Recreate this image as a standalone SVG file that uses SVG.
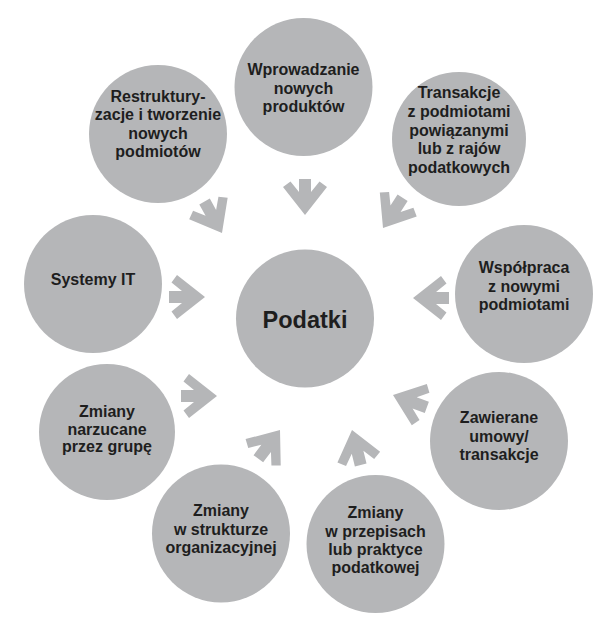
<svg xmlns="http://www.w3.org/2000/svg" xmlns:xlink="http://www.w3.org/1999/xlink" width="613" height="640" viewBox="0 0 613 640">
<style>
.node{fill:#b5b6b8}
.lbl{font-family:"Liberation Sans",Arial,sans-serif;font-weight:bold;font-size:16px;fill:#1e1e1e;text-anchor:middle}
.main{font-size:23.5px}
.arr{fill:#b5b6b8}
</style>
<defs>
<path id="arrow" d="M0,0 L-22,-28 L-14.5,-33.5 L-6,-23 L-6,-36 L6,-36 L6,-23 L14.5,-33.5 L22,-28 Z"/>
</defs>
<rect width="613" height="640" fill="#ffffff"/>
<g id="connectors" class="arr">
<use xlink:href="#arrow" transform="translate(305,215) rotate(0)"/>
<use xlink:href="#arrow" transform="translate(222,233) rotate(-29)"/>
<use xlink:href="#arrow" transform="translate(383,228) rotate(33)"/>
<use xlink:href="#arrow" transform="translate(205,297) rotate(-90)"/>
<use xlink:href="#arrow" transform="translate(413,298) rotate(90)"/>
<use xlink:href="#arrow" transform="translate(217,396) rotate(-90)"/>
<use xlink:href="#arrow" transform="translate(393,395) rotate(110)"/>
<use xlink:href="#arrow" transform="translate(280,430) rotate(-143)"/>
<use xlink:href="#arrow" transform="translate(352,430) rotate(166)"/>
</g>
<g id="n-wprowadzanie">
<circle class="node" cx="303.5" cy="87" r="69"/>
<text class="lbl" x="303.5" y="75">Wprowadzanie</text>
<text class="lbl" x="303.5" y="93.5">nowych</text>
<text class="lbl" x="303.5" y="112">produktów</text>
</g>
<g id="n-restrukturyzacje">
<circle class="node" cx="158" cy="134" r="69"/>
<text class="lbl" x="158" y="102">Restruktury-</text>
<text class="lbl" x="158" y="120">zacje i tworzenie</text>
<text class="lbl" x="158" y="138.5">nowych</text>
<text class="lbl" x="158" y="157">podmiotów</text>
</g>
<g id="n-transakcje">
<circle class="node" cx="459" cy="139" r="67"/>
<text class="lbl" x="459" y="98">Transakcje</text>
<text class="lbl" x="459" y="117">z podmiotami</text>
<text class="lbl" x="459" y="135.5">powiązanymi</text>
<text class="lbl" x="459" y="154">lub z rajów</text>
<text class="lbl" x="459" y="173">podatkowych</text>
</g>
<g id="n-systemy">
<circle class="node" cx="93" cy="284" r="69"/>
<text class="lbl" x="93" y="285">Systemy IT</text>
</g>
<g id="n-wspolpraca">
<circle class="node" cx="524" cy="294" r="69"/>
<text class="lbl" x="524" y="273">Współpraca</text>
<text class="lbl" x="524" y="292">z nowymi</text>
<text class="lbl" x="524" y="310">podmiotami</text>
</g>
<g id="n-grupa">
<circle class="node" cx="107" cy="432" r="68"/>
<text class="lbl" x="107" y="417">Zmiany</text>
<text class="lbl" x="107" y="435">narzucane</text>
<text class="lbl" x="107" y="452">przez grupę</text>
</g>
<g id="n-zawierane">
<circle class="node" cx="499" cy="441" r="69"/>
<text class="lbl" x="499" y="423">Zawierane</text>
<text class="lbl" x="499" y="442">umowy/</text>
<text class="lbl" x="499" y="460">transakcje</text>
</g>
<g id="n-struktura">
<circle class="node" cx="221" cy="533.5" r="69"/>
<text class="lbl" x="221" y="516">Zmiany</text>
<text class="lbl" x="221" y="534.5">w strukturze</text>
<text class="lbl" x="221" y="553">organizacyjnej</text>
</g>
<g id="n-przepisy">
<circle class="node" cx="375.5" cy="544" r="69"/>
<text class="lbl" x="375.5" y="518">Zmiany</text>
<text class="lbl" x="375.5" y="537">w przepisach</text>
<text class="lbl" x="375.5" y="555">lub praktyce</text>
<text class="lbl" x="375.5" y="573">podatkowej</text>
</g>
<g id="n-podatki">
<circle class="node" cx="305" cy="318.5" r="69"/>
<text class="lbl main" x="305" y="328">Podatki</text>
</g>
</svg>
